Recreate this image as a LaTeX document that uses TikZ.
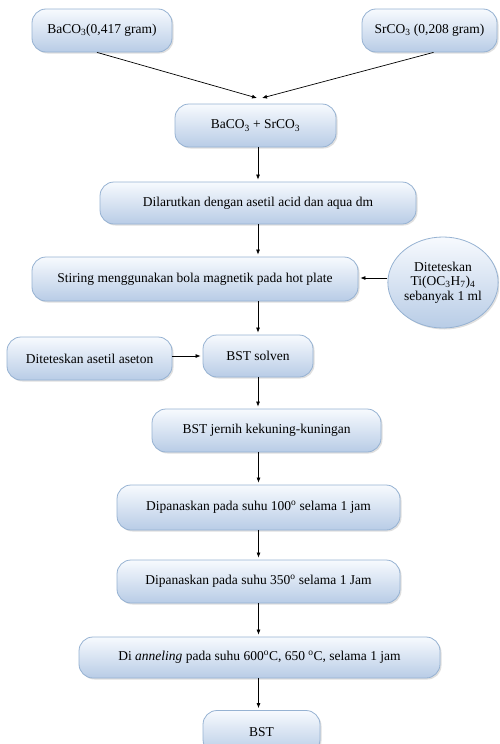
\documentclass[tikz,border=0pt]{standalone}
\usepackage{fontspec}
\setmainfont{Liberation Serif}
\usetikzlibrary{arrows.meta,shapes.geometric,shadows}
\definecolor{boxtop}{RGB}{247,250,254}
\definecolor{boxbot}{RGB}{184,204,230}
\definecolor{boxline}{RGB}{150,178,210}
\tikzset{
  stepbox/.style={rounded corners=14pt, draw=boxline, line width=0.8pt,
    top color=boxtop, bottom color=boxbot, inner sep=0pt,
    drop shadow={opacity=0.25, shadow xshift=1.5pt, shadow yshift=-1.5pt},
    font=\fontsize{13.5}{15}\selectfont},
  addbox/.style={ellipse, draw=boxline, line width=0.8pt,
    top color=boxtop, bottom color=boxbot, inner sep=0pt,
    minimum width=110pt, minimum height=91pt, align=center,
    drop shadow={opacity=0.25, shadow xshift=1.5pt, shadow yshift=-1.5pt},
    font=\fontsize{13.5}{14.5}\selectfont},
  flow/.style={-{Latex[length=5pt,width=4pt]}, line width=0.7pt, shorten >=2pt}
}
\begin{document}
\begin{tikzpicture}[x=1pt,y=-1pt]
  \path[use as bounding box, clip] (0,0) rectangle (499,744);
  % bahan awal
  \node[stepbox, minimum width=140pt, minimum height=43pt] (ba) at (102,30.5) {BaCO\textsubscript{3}(0,417 gram)};
  \node[stepbox, minimum width=135pt, minimum height=43pt] (sr) at (429.5,30.5) {SrCO\textsubscript{3} (0,208 gram)};
  \node[stepbox, minimum width=161pt, minimum height=43pt] (mix) at (255.5,125.5) {BaCO\textsubscript{3} + SrCO\textsubscript{3}};
  % proses
  \node[stepbox, minimum width=316pt, minimum height=42pt] (larut) at (258,203) {Dilarutkan dengan asetil acid dan aqua dm};
  \node[stepbox, minimum width=326pt, minimum height=44pt] (stir) at (195,279) {Stiring menggunakan bola magnetik pada hot plate};
  \node[addbox] (ti) at (443,282.5) {Diteteskan\\Ti(OC\textsubscript{3}H\textsubscript{7})\textsubscript{4}\\sebanyak 1 ml};
  \node[stepbox, minimum width=165pt, minimum height=43pt] (aseton) at (89.5,358.5) {Diteteskan asetil  aseton};
  \node[stepbox, minimum width=110pt, minimum height=42pt] (solven) at (258,356) {BST solven};
  \node[stepbox, minimum width=229pt, minimum height=43pt] (jernih) at (266.5,430.5) {BST jernih kekuning-kuningan};
  \node[stepbox, minimum width=283pt, minimum height=45pt] (panas1) at (258.5,507.5) {Dipanaskan pada suhu 100\textsuperscript{o} selama 1  jam};
  \node[stepbox, minimum width=283pt, minimum height=43pt] (panas2) at (258.5,581.5) {Dipanaskan pada suhu 350\textsuperscript{o} selama 1 Jam};
  \node[stepbox, minimum width=361pt, minimum height=41pt] (anneal) at (259.5,657.5) {Di \textit{anneling} pada suhu 600\textsuperscript{o}C, 650 \textsuperscript{o}C, selama 1 jam};
  \node[stepbox, minimum width=117pt, minimum height=43pt] (bst) at (261.5,732) {BST};
  % panah
  \coordinate (mixl) at (257,98);
  \coordinate (mixr) at (262,98);
  \draw[flow, shorten >=0pt] ([xshift=-5pt]ba.south) -- (mixl);
  \draw[flow, shorten >=0pt] ([xshift=4pt]sr.south) -- (mixr);
  \draw[flow] (mix.south -| larut.north) -- (larut.north);
  \draw[flow] (larut.south) -- (larut.south |- stir.north);
  \draw[flow] (ti.west |- 0,278) -- (stir.east |- 0,278);
  \draw[flow] (stir.south -| solven.north) -- (solven.north);
  \draw[flow] (aseton.east |- solven.west) -- (solven.west);
  \draw[flow] (solven.south) -- (solven.south |- jernih.north);
  \draw[flow] (jernih.south -| panas1.north) -- (panas1.north);
  \draw[flow] (panas1.south) -- (panas2.north);
  \draw[flow] (panas2.south) -- (panas2.south |- anneal.north);
  \draw[flow] (anneal.south -| panas2.south) -- (panas2.south |- bst.north);
\end{tikzpicture}
\end{document}
